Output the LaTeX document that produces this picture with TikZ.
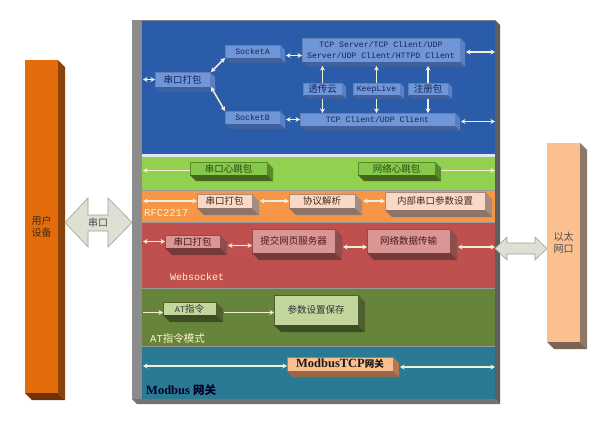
\documentclass[tikz,border=0pt]{standalone}
\usepackage{fontspec}
\setmainfont{Liberation Serif}
\newfontfamily\cjk{Noto Sans CJK SC}
\newfontfamily\mono{Liberation Mono}
\usetikzlibrary{arrows.meta,calc}
\definecolor{bandblue}{HTML}{2A5CAA}
\definecolor{bandgreen}{HTML}{92D050}
\definecolor{bandorange}{HTML}{F79646}
\definecolor{bandred}{HTML}{C0504D}
\definecolor{bandolive}{HTML}{66853A}
\definecolor{bandteal}{HTML}{2A7A93}
\definecolor{bluefc}{HTML}{6F96D6}
\definecolor{bluesr}{HTML}{5A7FC2}
\definecolor{bluesb}{HTML}{41609E}
\definecolor{bluetx}{HTML}{16245A}
\definecolor{greenfc}{HTML}{86C84B}
\definecolor{greensr}{HTML}{5A8A2A}
\definecolor{greensb}{HTML}{42681C}
\definecolor{greentx}{HTML}{2C4A10}
\definecolor{orfc}{HTML}{F9D8C8}
\definecolor{orsr}{HTML}{A48C80}
\definecolor{orsb}{HTML}{8C7468}
\definecolor{ortx}{HTML}{4A2A1A}
\definecolor{redfc}{HTML}{D99694}
\definecolor{redsr}{HTML}{8E4C4C}
\definecolor{redsb}{HTML}{763A3A}
\definecolor{redtx}{HTML}{4A1A1A}
\definecolor{olfc}{HTML}{C3D69B}
\definecolor{olsr}{HTML}{4E6030}
\definecolor{olsb}{HTML}{3E4E24}
\definecolor{oltx}{HTML}{333333}
\definecolor{mbfc}{HTML}{FAC090}
\definecolor{mbsr}{HTML}{B07A55}
\definecolor{mbsb}{HTML}{9A6848}
\definecolor{conncol}{HTML}{F2EFD9}
\definecolor{labcol}{HTML}{FFF2CC}
\definecolor{udfc}{HTML}{E26B0A}
\definecolor{udsr}{HTML}{8A4209}
\definecolor{udsb}{HTML}{6E3407}
\definecolor{ethfc}{HTML}{FAC090}
\definecolor{ethsr}{HTML}{8F7766}
\definecolor{ethsb}{HTML}{7A6455}
\definecolor{bigarr}{HTML}{DDE0D2}
\definecolor{bigarrln}{HTML}{9EA394}
\newcommand\mtext[1]{{\mono\fontsize{8.2}{11}\selectfont #1}}
\newcommand\bx[7]{\node[#6, minimum width={(#4-#2)*1pt}, minimum height={(#5-#3)*1pt}] (#1) at ({(#2+#4)/2},{(#3+#5)/2}) {#7};}
\newcommand\exd[4]{%
\fill[#3] (#1.north east) -- ++(#2,#2) -- ([shift={(#2,#2)}]#1.south east) -- (#1.south east) -- cycle;
\fill[#4] (#1.south west) -- (#1.south east) -- ([shift={(#2,#2)}]#1.south east) -- ([shift={(#2,#2)}]#1.south west) -- cycle;}
\tikzset{
  box/.style={inner sep=0pt, outer sep=0pt, font=\cjk\fontsize{9.5}{11}\selectfont},
  bluebox/.style={box, fill=bluefc, draw=bluefc!85!black, line width=0.3pt, text=bluetx},
  greenbox/.style={box, fill=greenfc, draw=greensr, line width=0.3pt, text=greentx},
  orbox/.style={box, fill=orfc, draw=orsr, line width=0.3pt, text=ortx},
  redbox/.style={box, fill=redfc, draw=redsr, line width=0.3pt, text=redtx},
  olbox/.style={box, fill=olfc, draw=olsr, line width=0.3pt, text=oltx},
  mbbox/.style={box, fill=mbfc, draw=mbsr, line width=0.3pt, text=black!90},
  colbox/.style={box, font=\cjk\fontsize{10}{12.5}\selectfont, align=center},
  dconn/.style={draw=conncol, line width=1.5pt, {Stealth[length=4.5pt,width=5pt]}-{Stealth[length=4.5pt,width=5pt]}},
  sconn/.style={draw=conncol, line width=1.5pt, -{Stealth[length=4.5pt,width=5pt]}},
  bandlab/.style={anchor=west, inner sep=0pt, text=labcol}
}
\begin{document}
\begin{tikzpicture}[x=1pt,y=-1pt]
\useasboundingbox (0,0) rectangle (608,426);
\fill[white] (0,0) rectangle (608,426);
% frame
\fill[black!45] (132,20) rectangle (495,399);
\fill[black!63] (495,20) -- (500,25) -- (500,404) -- (495,399) -- cycle;
\fill[black!55] (132,399) -- (495,399) -- (500,404) -- (137,404) -- cycle;
% bands
\fill[bandblue] (142,20) rectangle (495,154);
\fill[black!25!blue!10] (142,154) rectangle (495,157);
\fill[bandgreen] (142,157) rectangle (495,190);
\fill[bandorange] (142,190) rectangle (495,222);
\fill[bandred] (142,222) rectangle (495,288);
\fill[bandolive] (142,288) rectangle (495,346);
\fill[bandteal] (142,346) rectangle (495,399);
\draw[black!50, line width=0.4pt] (142,20) -- (495,20);
\draw[black!40, line width=0.3pt] (142,190) -- (495,190) (142,222) -- (495,222) (142,288) -- (495,288) (142,346) -- (495,346);
% blue band boxes
\bx{pa}{155}{72}{210}{87}{bluebox}{串口打包}
\exd{pa}{5}{bluesr}{bluesb}
\bx{sa}{225}{45}{280}{58}{bluebox}{\mtext{SocketA}}
\exd{sa}{5}{bluesr}{bluesb}
\bx{sb}{225}{111}{280}{124}{bluebox}{\mtext{SocketB}}
\exd{sb}{5}{bluesr}{bluesb}
\bx{srv}{302}{38}{460}{62}{bluebox, align=center}{\mtext{TCP Server/TCP Client/UDP}\\\mtext{Server/UDP Client/HTTPD Client}}
\exd{srv}{5}{bluesr}{bluesb}
\bx{cli}{300}{113}{455}{126}{bluebox}{\mtext{TCP Client/UDP Client}}
\exd{cli}{5}{bluesr}{bluesb}
\bx{tc}{303}{83}{342}{95}{bluebox}{透传云}
\exd{tc}{4}{bluesr}{bluesb}
\bx{kl}{353}{83}{400}{95}{bluebox}{\mtext{KeepLive}}
\exd{kl}{4}{bluesr}{bluesb}
\bx{zc}{408}{83}{448}{95}{bluebox}{注册包}
\exd{zc}{4}{bluesr}{bluesb}
% green band
\bx{hs}{190}{162}{267}{175}{greenbox}{串口心跳包}
\exd{hs}{6}{greensr}{greensb}
\bx{hn}{358}{162}{435}{175}{greenbox}{网络心跳包}
\exd{hn}{6}{greensr}{greensb}
% orange band
\bx{op}{197}{194}{252}{208}{orbox}{串口打包}
\exd{op}{7}{orsr}{orsb}
\bx{xy}{289}{194}{355}{208}{orbox}{协议解析}
\exd{xy}{7}{orsr}{orsb}
\bx{nb}{385}{192}{485}{210}{orbox}{内部串口参数设置}
\exd{nb}{7}{orsr}{orsb}
\node[bandlab, font=\mono\fontsize{10.5}{12}\selectfont] (lrfc) at (144,213) {RFC2217};
% red band
\bx{rp}{165}{235}{220}{248}{redbox}{串口打包}
\exd{rp}{7}{redsr}{redsb}
\bx{tj}{252}{229}{335}{253}{redbox}{提交网页服务器}
\exd{tj}{7}{redsr}{redsb}
\bx{wl}{367}{229}{450}{253}{redbox}{网络数据传输}
\exd{wl}{7}{redsr}{redsb}
\node[bandlab, font=\mono\fontsize{10}{12}\selectfont] (lws) at (170,277) {Websocket};
% olive band
\bx{at}{163}{302}{216}{315}{olbox}{{\mono\fontsize{8.5}{10}\selectfont AT}指令}
\exd{at}{7}{olsr}{olsb}
\bx{cs}{274}{295}{358}{325}{olbox}{参数设置保存}
\exd{cs}{7}{olsr}{olsb}
\node[bandlab, font=\cjk\fontsize{10.5}{12}\selectfont] (lat) at (150,339) {{\mono\fontsize{10.5}{12}\selectfont AT}指令模式};
% teal band
\bx{mb}{287}{357}{393}{371}{mbbox}{{\rmfamily\bfseries\fontsize{12.5}{14}\selectfont ModbusTCP}{\bfseries 网关}}
\exd{mb}{6}{mbsr}{mbsb}
\node[bandlab, text=black!85!blue, font=\bfseries\fontsize{12.5}{14}\selectfont] (lmb) at (146,390) {Modbus {\cjk\bfseries\fontsize{11.5}{14}\selectfont 网关}};
% columns
\bx{ud}{25}{60}{58}{393}{colbox, fill=udfc, text=black!65!brown}{用户\\设备}
\exd{ud}{7}{udsr}{udsb}
\bx{eth}{547}{143}{580}{342}{colbox, fill=ethfc, text=black!70}{以太\\网口}
\exd{eth}{7}{ethsr}{ethsb}
% big arrows
\filldraw[fill=bigarr, draw=bigarrln, line width=0.6pt] (65,222.5) -- (88,198) -- (88,215) -- (108,215) -- (108,198) -- (132,222.5) -- (108,247) -- (108,231) -- (88,231) -- (88,247) -- cycle;
\node[inner sep=0pt, font=\cjk\fontsize{10}{12}\selectfont, text=black!70] (sk) at (98,223) {串口};
\filldraw[fill=bigarr, draw=bigarrln, line width=0.6pt] (495,248.5) -- (507,237) -- (507,243) -- (535,243) -- (535,237) -- (547,248.5) -- (535,260) -- (535,254) -- (507,254) -- (507,260) -- cycle;
% free ends
\coordinate (fL) at (143,0);
\coordinate (fR) at (495,0);
% connectors blue
\draw[dconn] (pa.west -| fL) -- (pa.west);
\draw[dconn] ([xshift=1pt]pa.north east) -- (sa.south west);
\draw[dconn] ([xshift=1pt]pa.south east) -- (sb.north west);
\draw[dconn] ($(sa.east)+(6,4)$) -- ($(sa.east -| srv.west)+(0,4)$);
\draw[dconn] ($(srv.east)+(6,2)$) -- ($(srv.east -| fR)+(0,2)$);
\draw[dconn] ($(sb.east)+(6,2)$) -- ($(sb.east -| cli.west)+(0,2)$);
\draw[dconn] ($(cli.east)+(6,2)$) -- ($(cli.east -| fR)+(0,2)$);
\foreach \n in {tc,kl,zc}{
  \draw[sconn] (\n.north) -- ($(srv.south -| \n.north)+(0,4)$);
  \draw[sconn] ($(\n.south)+(0,4)$) -- (\n.south |- cli.north);
}
% green
\draw[sconn] ($(hs.west)+(0,2)$) -- ($(hs.west -| fL)+(0,2)$);
\draw[sconn] ($(hn.east)+(6,2)$) -- ($(hn.east -| fR)+(0,2)$);
% orange
\draw[dconn] (op.west -| fL) -- (op.west);
\draw[dconn] ($(op.east)+(8,0)$) -- (op.east -| xy.west);
\draw[dconn] ($(xy.east)+(8,0)$) -- (xy.east -| nb.west);
% red
\draw[dconn] (rp.west -| fL) -- (rp.west);
\draw[dconn] ($(rp.east)+(8,4)$) -- ($(rp.east -| tj.west)+(0,4)$);
\draw[dconn] ($(tj.east)+(8,6)$) -- ($(tj.east -| wl.west)+(0,6)$);
\draw[dconn] ($(wl.east)+(8,6)$) -- ($(wl.east -| fR)+(0,6)$);
% olive
\draw[sconn] ($(at.west -| fL)+(0,4)$) -- ($(at.west)+(0,4)$);
\draw[sconn] ($(at.east)+(8,4)$) -- ($(at.east -| cs.west)+(0,4)$);
% teal
\draw[dconn] ($(mb.west -| fL)+(0,2)$) -- ($(mb.west)+(0,2)$);
\draw[dconn] ($(mb.east)+(7,3)$) -- ($(mb.east -| fR)+(0,3)$);
\end{tikzpicture}
\end{document}
